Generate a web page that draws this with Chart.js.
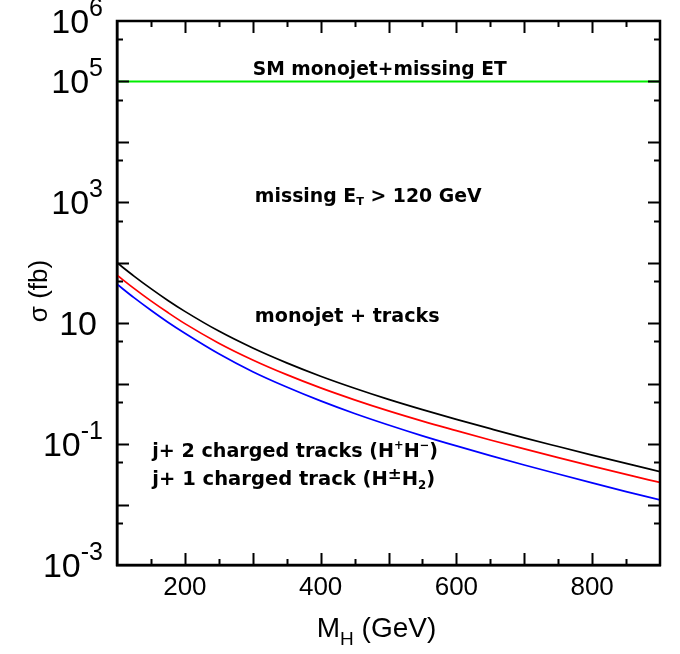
<!DOCTYPE html>
<html><head><meta charset="utf-8">
<script src="https://cdn.jsdelivr.net/npm/chart.js@4/dist/chart.umd.min.js"></script>
<style>html,body{margin:0;padding:0;background:#fff}#wrap{width:680px;height:654px}</style>
</head><body><div id="wrap"><canvas id="c" width="680" height="654"></canvas></div>
<script>
// ---- data ----
const massGeV = [100,125,150,175,200,250,300,350,400,450,500,550,600,650,700,750,800,850,900];
const sigmaMonojetTracks = [100,60.3,37.3,23.8,15.7,7.41,3.89,2.21,1.33,0.841,0.55,0.372,0.257,0.180,0.127,0.0912,0.0658,0.0479,0.0351];
const sigmaTwoTracks = [62.4,37.7,23.4,15.0,9.84,4.68,2.47,1.41,0.851,0.540,0.354,0.240,0.167,0.117,0.0832,0.0597,0.0432,0.0315,0.0232];
const sigmaOneTrack = [44.2,26.5,16.4,10.4,6.84,3.13,1.58,0.881,0.519,0.321,0.207,0.137,0.0933,0.0646,0.0452,0.032,0.0228,0.0164,0.0119];
const smMass = [100, 900];
const smMonojet = [1e5, 1e5];
const xTickValues = [100,150,200,250,300,350,400,450,500,550,600,650,700,750,800,850,900];
const xTickLabels = {200:'200', 400:'400', 600:'600', 800:'800'};
const yTickValues = [1e-3,5e-3,1e-2,5e-2,1e-1,5e-1,1,5,10,50,100,500,1e3,5e3,1e4,5e4,1e5,5e5,1e6];
// decade exponents that carry a label, and the superscript shown for each
const yLabelExponents = [6, 5, 3, 1, -1, -3];
const yLabelSuperscripts = ['6', '5', '3', '', '-1', '-3'];

const FONT = '"Liberation Sans", Arial, sans-serif';
const AFONT = '"DejaVu Sans", sans-serif';

function drawRich(ctx, parts, x, y, size, targetW) {
  const fs = k => k === 'n' ? size : (k === 'pm' ? size * 0.85 : size * 0.6);
  const measure = () => { let t = 0; for (const [s, k] of parts) { ctx.font = `bold ${fs(k)}px ${AFONT}`; t += ctx.measureText(s).width; } return t; };
  if (targetW) size = size * targetW / measure();
  let cx = x;
  ctx.textAlign = 'left'; ctx.textBaseline = 'alphabetic'; ctx.fillStyle = '#000';
  for (const [s, k] of parts) {
    ctx.font = `bold ${fs(k)}px ${AFONT}`;
    const dy = k === 'sub' ? size * 0.18 : (k === 'sup' ? -size * 0.42 : (k === 'pm' ? -size * 0.3 : 0));
    ctx.fillText(s, cx, y + dy);
    cx += ctx.measureText(s).width;
  }
}

const decor = {
  id: 'decor',
  afterDraw(chart) {
    const ctx = chart.ctx, a = chart.chartArea, xs = chart.scales.x, ys = chart.scales.y;
    ctx.save();
    ctx.strokeStyle = '#000'; ctx.lineWidth = 2.5;
    ctx.strokeRect(a.left, a.top, a.right - a.left, a.bottom - a.top);
    ctx.lineWidth = 2;
    ctx.beginPath();
    for (const v of xTickValues) {
      if (v === xs.min || v === xs.max) continue;
      const px = Math.round(xs.getPixelForValue(v)) + 0.5;
      const len = v % 100 === 0 ? 12 : 6;
      ctx.moveTo(px, a.bottom); ctx.lineTo(px, a.bottom - len);
      ctx.moveTo(px, a.top); ctx.lineTo(px, a.top + len);
    }
    for (const v of yTickValues) {
      if (v === ys.min || v === ys.max) continue;
      const py = Math.round(ys.getPixelForValue(v)) + 0.5;
      const dec = Math.abs(Math.log10(v) - Math.round(Math.log10(v))) < 1e-6;
      const len = dec ? 12 : 6;
      ctx.moveTo(a.left, py); ctx.lineTo(a.left + len, py);
      ctx.moveTo(a.right, py); ctx.lineTo(a.right - len, py);
    }
    ctx.stroke();

    // y tick labels with superscript exponents
    ctx.fillStyle = '#000';
    yLabelExponents.forEach((e, i) => {
      const py = ys.getPixelForValue(Math.pow(10, e));
      const sup = yLabelSuperscripts[i];
      ctx.textAlign = 'right'; ctx.textBaseline = 'alphabetic';
      if (sup) {
        ctx.font = `25px ${FONT}`;
        const ws = ctx.measureText(sup).width;
        const right = 103;
        ctx.fillText(sup, right, py - 5);
        ctx.font = `34px ${FONT}`;
        ctx.fillText('10', right - ws, py + 12);
      } else {
        ctx.font = `34px ${FONT}`;
        ctx.fillText('10', 97, py + 12);
      }
    });

    // axis titles
    ctx.textBaseline = 'alphabetic';
    ctx.font = `28px ${FONT}`;
    const t1 = 'M', t2 = 'H', t3 = ' (GeV)';
    const w1 = ctx.measureText(t1).width, w3 = ctx.measureText(t3).width;
    ctx.font = `19px ${FONT}`; const w2 = ctx.measureText(t2).width;
    let sx = (a.left + a.right) / 2 - (w1 + w2 + w3) / 2 - 12;
    const by = 641;
    ctx.textAlign = 'left';
    ctx.font = `28px ${FONT}`; ctx.fillText(t1, sx, by - 4); sx += w1;
    ctx.font = `19px ${FONT}`; ctx.fillText(t2, sx, by + 4); sx += w2;
    ctx.font = `28px ${FONT}`; ctx.fillText(t3, sx, by - 4);

    ctx.save();
    ctx.translate(40, 291); ctx.rotate(-Math.PI / 2);
    ctx.textAlign = 'center'; ctx.textBaseline = 'middle';
    ctx.font = `26px ${FONT}`;
    ctx.fillText('σ (fb)', 0, 0);
    ctx.restore();

    // annotations
    const X = m => xs.getPixelForValue(m);
    drawRich(ctx, [['SM monojet+missing ET', 'n']], X(300), 75, 17, 254);
    drawRich(ctx, [['missing E', 'n'], ['T', 'sub'], [' > 120 GeV', 'n']], X(303), 202, 17, 227);
    drawRich(ctx, [['monojet + tracks', 'n']], X(303), 322, 17, 185);
    drawRich(ctx, [['j+ 2 charged tracks (H', 'n'], ['+', 'sup'], ['H', 'n'], ['−', 'sup'], [')', 'n']], X(152), 457, 17, 286);
    drawRich(ctx, [['j+ 1 charged track (H', 'n'], ['±', 'pm'], ['H', 'n'], ['2', 'sub'], [')', 'n']], X(152), 485, 17, 283);
    ctx.restore();
  }
};

new Chart(document.getElementById('c'), {
  type: 'line',
  data: {
    datasets: [
      { label: 'SM monojet + missing ET', data: smMass.map((m, i) => ({x: m, y: smMonojet[i]})), borderColor: '#00ee00', borderWidth: 2, pointRadius: 0, fill: false },
      { label: 'monojet + tracks', data: massGeV.map((m, i) => ({x: m, y: sigmaMonojetTracks[i]})), borderColor: '#000000', borderWidth: 1.7, pointRadius: 0, fill: false, cubicInterpolationMode: 'monotone' },
      { label: 'j + 2 charged tracks', data: massGeV.map((m, i) => ({x: m, y: sigmaTwoTracks[i]})), borderColor: '#ff0000', borderWidth: 1.7, pointRadius: 0, fill: false, cubicInterpolationMode: 'monotone' },
      { label: 'j + 1 charged track', data: massGeV.map((m, i) => ({x: m, y: sigmaOneTrack[i]})), borderColor: '#0000ff', borderWidth: 1.7, pointRadius: 0, fill: false, cubicInterpolationMode: 'monotone' }
    ]
  },
  options: {
    responsive: false,
    devicePixelRatio: 1,
    animation: false,
    layout: { padding: { top: 21, right: 20, left: 0, bottom: 0 } },
    plugins: { legend: { display: false }, tooltip: { enabled: false } },
    scales: {
      x: {
        type: 'linear', min: 100, max: 900,
        afterFit: s => { s.height = 89; },
        afterBuildTicks: s => { s.ticks = xTickValues.map(v => ({value: v})); },
        grid: { display: true, drawOnChartArea: false, drawTicks: false },
        border: { display: true, color: '#000', width: 2.5 },
        ticks: { autoSkip: false, maxRotation: 0, padding: 7, color: '#000', font: { family: FONT, size: 26 },
          callback: v => xTickLabels[v] || '' }
      },
      y: {
        type: 'logarithmic', min: 1e-3, max: 1e6,
        afterFit: s => { s.width = 117; },
        afterBuildTicks: s => { s.ticks = yTickValues.map(v => ({value: v})); },
        grid: { display: true, drawOnChartArea: false, drawTicks: false },
        border: { display: true, color: '#000', width: 2.5 },
        ticks: { autoSkip: false, display: false }
      }
    }
  },
  plugins: [decor]
});
</script>
</body></html>
